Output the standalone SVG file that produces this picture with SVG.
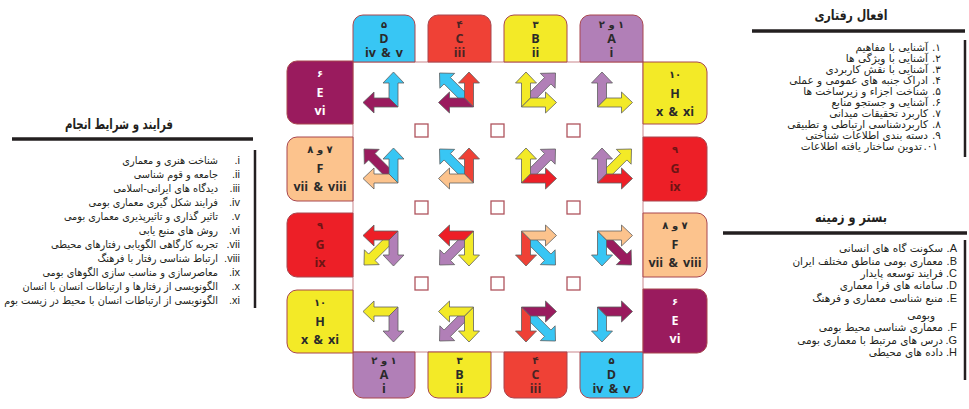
<svg xmlns="http://www.w3.org/2000/svg" width="969" height="409" viewBox="0 0 969 409">
<style>
.tab{stroke:#a8474f;stroke-width:1}
.tt{font-family:"Open Sans","DejaVu Sans",sans-serif;font-weight:700;font-size:12.5px;text-anchor:middle}
.td{font-family:"DejaVu Sans",sans-serif;font-weight:700;font-size:10px;text-anchor:middle}
.fa{font-family:"DejaVu Sans",sans-serif;font-size:10.5px;text-anchor:end;fill:#231f20}
.nm{font-family:"Liberation Sans","DejaVu Sans",sans-serif;font-size:11px;text-anchor:end;fill:#231f20}
.ttl{font-family:"DejaVu Sans",sans-serif;font-weight:700;font-size:14px;text-anchor:middle;fill:#231f20}
.rule{stroke:#231f20;stroke-width:3.5}
.bar{stroke:#231f20;stroke-width:2.5}
.sq{fill:#fff;stroke:#b0545d;stroke-width:1.3}
</style>
<defs>
<polygon id="v" points="5,5 5,-10 -1,-10 9.5,-21 20,-10 14,-10 14,14" stroke="#5f5f5f" stroke-width="0.8"/>
<polygon id="h" points="14,14 -10,14 -10,20 -21,9.5 -10,-1 -10,5 5,5" stroke="#5f5f5f" stroke-width="0.8"/>
<polygon id="d" points="11.18,4.82 -9.04,-15.4 -4.8,-19.64 -20,-20 -19.64,-4.8 -15.4,-9.04 4.82,11.18" stroke="#5f5f5f" stroke-width="0.8"/>
</defs>
<rect width="969" height="409" fill="#fff"/>
<rect id="board" x="353" y="62" width="290" height="290" fill="#fff" stroke="#c9868c" stroke-width="1"/>
<g id="tab-top-D"><path class="tab" fill="#38c6f4" d="M353 62V25A10 10 0 0 1 363 15H405A10 10 0 0 1 415 25V62Z"/><text class="td" x="384" y="28" fill="#2a2a2a">۵</text><text class="tt" x="384" y="42.5" fill="#2a2a2a">D</text><text class="tt" x="384" y="56.5" fill="#2a2a2a" word-spacing="2">iv &amp; v</text></g>
<g id="tab-top-C"><path class="tab" fill="#ef4136" d="M428 62V25A10 10 0 0 1 438 15H481A10 10 0 0 1 491 25V62Z"/><text class="td" x="459.5" y="28" fill="#4a2424">۴</text><text class="tt" x="459.5" y="42.5" fill="#4a2424">C</text><text class="tt" x="459.5" y="56.5" fill="#4a2424">iii</text></g>
<g id="tab-top-B"><path class="tab" fill="#f3ea27" d="M504 62V25A10 10 0 0 1 514 15H557A10 10 0 0 1 567 25V62Z"/><text class="td" x="535.5" y="28" fill="#2a2a2a">۳</text><text class="tt" x="535.5" y="42.5" fill="#2a2a2a">B</text><text class="tt" x="535.5" y="56.5" fill="#2a2a2a">ii</text></g>
<g id="tab-top-A"><path class="tab" fill="#b17fb7" d="M580 62V25A10 10 0 0 1 590 15H633A10 10 0 0 1 643 25V62Z"/><text class="td" x="611.5" y="28" fill="#2a2a2a" direction="rtl">۱ و ۲</text><text class="tt" x="611.5" y="42.5" fill="#2a2a2a">A</text><text class="tt" x="611.5" y="56.5" fill="#2a2a2a">i</text></g>
<g id="tab-bottom-A"><path class="tab" fill="#b17fb7" d="M353 352V388A10 10 0 0 0 363 398H405A10 10 0 0 0 415 388V352Z"/><text class="td" x="384" y="364" fill="#2a2a2a" direction="rtl">۱ و ۲</text><text class="tt" x="384" y="378.5" fill="#2a2a2a">A</text><text class="tt" x="384" y="392.5" fill="#2a2a2a">i</text></g>
<g id="tab-bottom-B"><path class="tab" fill="#f3ea27" d="M428 352V388A10 10 0 0 0 438 398H481A10 10 0 0 0 491 388V352Z"/><text class="td" x="459.5" y="364" fill="#2a2a2a">۳</text><text class="tt" x="459.5" y="378.5" fill="#2a2a2a">B</text><text class="tt" x="459.5" y="392.5" fill="#2a2a2a">ii</text></g>
<g id="tab-bottom-C"><path class="tab" fill="#ef4136" d="M504 352V388A10 10 0 0 0 514 398H557A10 10 0 0 0 567 388V352Z"/><text class="td" x="535.5" y="364" fill="#4a2424">۴</text><text class="tt" x="535.5" y="378.5" fill="#4a2424">C</text><text class="tt" x="535.5" y="392.5" fill="#4a2424">iii</text></g>
<g id="tab-bottom-D"><path class="tab" fill="#38c6f4" d="M580 352V388A10 10 0 0 0 590 398H633A10 10 0 0 0 643 388V352Z"/><text class="td" x="611.5" y="364" fill="#2a2a2a">۵</text><text class="tt" x="611.5" y="378.5" fill="#2a2a2a">D</text><text class="tt" x="611.5" y="392.5" fill="#2a2a2a" word-spacing="2">iv &amp; v</text></g>
<g id="tab-left-E"><path class="tab" fill="#9a1b5e" d="M353 61H297A10 10 0 0 0 287 71V114A10 10 0 0 0 297 124H353Z"/><text class="td" x="320" y="77" fill="#fff">۶</text><text class="tt" x="320" y="97" fill="#fff">E</text><text class="tt" x="320" y="115" fill="#fff">vi</text></g>
<g id="tab-left-F"><path class="tab" fill="#fcc38d" d="M353 137H297A10 10 0 0 0 287 147V191A10 10 0 0 0 297 201H353Z"/><text class="td" x="320" y="153" fill="#2a2a2a" direction="rtl">۷ و ۸</text><text class="tt" x="320" y="173" fill="#2a2a2a">F</text><text class="tt" x="320" y="191" fill="#2a2a2a" word-spacing="2">vii &amp; viii</text></g>
<g id="tab-left-G"><path class="tab" fill="#ed1f27" d="M353 213H297A10 10 0 0 0 287 223V267A10 10 0 0 0 297 277H353Z"/><text class="td" x="320" y="229" fill="#6e1414">۹</text><text class="tt" x="320" y="249" fill="#6e1414">G</text><text class="tt" x="320" y="267" fill="#6e1414">ix</text></g>
<g id="tab-left-H"><path class="tab" fill="#f3ea27" d="M353 290H297A10 10 0 0 0 287 300V343A10 10 0 0 0 297 353H353Z"/><text class="td" x="320" y="306" fill="#2a2a2a">۱۰</text><text class="tt" x="320" y="326" fill="#2a2a2a">H</text><text class="tt" x="320" y="344" fill="#2a2a2a" word-spacing="2">x &amp; xi</text></g>
<g id="tab-right-H"><path class="tab" fill="#f3ea27" d="M643 62H697A10 10 0 0 1 707 72V114A10 10 0 0 1 697 124H643Z"/><text class="td" x="675" y="78" fill="#2a2a2a">۱۰</text><text class="tt" x="675" y="98" fill="#2a2a2a">H</text><text class="tt" x="675" y="116" fill="#2a2a2a" word-spacing="2">x &amp; xi</text></g>
<g id="tab-right-G"><path class="tab" fill="#ed1f27" d="M643 137H697A10 10 0 0 1 707 147V191A10 10 0 0 1 697 201H643Z"/><text class="td" x="675" y="153" fill="#6e1414">۹</text><text class="tt" x="675" y="173" fill="#6e1414">G</text><text class="tt" x="675" y="191" fill="#6e1414">ix</text></g>
<g id="tab-right-F"><path class="tab" fill="#fcc38d" d="M643 213H697A10 10 0 0 1 707 223V267A10 10 0 0 1 697 277H643Z"/><text class="td" x="675" y="229" fill="#2a2a2a" direction="rtl">۷ و ۸</text><text class="tt" x="675" y="249" fill="#2a2a2a">F</text><text class="tt" x="675" y="267" fill="#2a2a2a" word-spacing="2">vii &amp; viii</text></g>
<g id="tab-right-E"><path class="tab" fill="#9a1b5e" d="M643 289H697A10 10 0 0 1 707 299V343A10 10 0 0 1 697 353H643Z"/><text class="td" x="675" y="305" fill="#fff">۶</text><text class="tt" x="675" y="325" fill="#fff">E</text><text class="tt" x="675" y="343" fill="#fff">vi</text></g>
<g id="markers">
<rect class="sq" x="415" y="124" width="13" height="13"/><rect class="sq" x="491" y="124" width="13" height="13"/><rect class="sq" x="567" y="124" width="13" height="13"/>
<rect class="sq" x="415" y="201" width="13" height="13"/><rect class="sq" x="491" y="201" width="13" height="13"/><rect class="sq" x="567" y="201" width="13" height="13"/>
<rect class="sq" x="415" y="277" width="13" height="13"/><rect class="sq" x="491" y="277" width="13" height="13"/><rect class="sq" x="567" y="277" width="13" height="13"/>
</g>
<g id="arrows">
<g transform="translate(384,93)"><use href="#v" fill="#38c6f4"/><use href="#h" fill="#9a1b5e"/></g>
<g transform="translate(459.5,93)"><use href="#d" fill="#38c6f4"/><use href="#v" fill="#ef4136"/><use href="#h" fill="#9a1b5e"/></g>
<g transform="translate(535.5,93) scale(-1,1)"><use href="#d" fill="#b17fb7"/><use href="#v" fill="#f3ea27"/><use href="#h" fill="#f3ea27"/></g>
<g transform="translate(611.5,93) scale(-1,1)"><use href="#v" fill="#b17fb7"/><use href="#h" fill="#f3ea27"/></g>
<g transform="translate(384,169)"><use href="#d" fill="#9a1b5e"/><use href="#v" fill="#38c6f4"/><use href="#h" fill="#fcc38d"/></g>
<g transform="translate(459.5,169)"><use href="#d" fill="#38c6f4"/><use href="#v" fill="#ef4136"/><use href="#h" fill="#fcc38d"/></g>
<g transform="translate(535.5,169) scale(-1,1)"><use href="#d" fill="#b17fb7"/><use href="#v" fill="#f3ea27"/><use href="#h" fill="#ed1f27"/></g>
<g transform="translate(611.5,169) scale(-1,1)"><use href="#d" fill="#f3ea27"/><use href="#v" fill="#b17fb7"/><use href="#h" fill="#ed1f27"/></g>
<g transform="translate(384,245) scale(1,-1)"><use href="#d" fill="#f3ea27"/><use href="#v" fill="#b17fb7"/><use href="#h" fill="#ed1f27"/></g>
<g transform="translate(459.5,245) scale(1,-1)"><use href="#d" fill="#b17fb7"/><use href="#v" fill="#f3ea27"/><use href="#h" fill="#ed1f27"/></g>
<g transform="translate(535.5,245) scale(-1,-1)"><use href="#d" fill="#38c6f4"/><use href="#v" fill="#ef4136"/><use href="#h" fill="#fcc38d"/></g>
<g transform="translate(611.5,245) scale(-1,-1)"><use href="#d" fill="#9a1b5e"/><use href="#v" fill="#38c6f4"/><use href="#h" fill="#fcc38d"/></g>
<g transform="translate(384,321) scale(1,-1)"><use href="#v" fill="#b17fb7"/><use href="#h" fill="#f3ea27"/></g>
<g transform="translate(459.5,321) scale(1,-1)"><use href="#d" fill="#b17fb7"/><use href="#v" fill="#f3ea27"/><use href="#h" fill="#f3ea27"/></g>
<g transform="translate(535.5,321) scale(-1,-1)"><use href="#d" fill="#38c6f4"/><use href="#v" fill="#ef4136"/><use href="#h" fill="#9a1b5e"/></g>
<g transform="translate(611.5,321) scale(-1,-1)"><use href="#v" fill="#38c6f4"/><use href="#h" fill="#9a1b5e"/></g>
</g>
<g id="panel-left">
<text class="ttl" x="119" y="129" textLength="108" lengthAdjust="spacingAndGlyphs">فرایند و شرایط انجام</text>
<line class="rule" x1="12" y1="139" x2="253" y2="139"/>
<line class="bar" x1="255" y1="150" x2="255" y2="308"/>
<text class="nm" x="240" y="164">.i</text>
<text class="nm" x="240" y="178">.ii</text>
<text class="nm" x="240" y="192">.iii</text>
<text class="nm" x="240" y="206">.iv</text>
<text class="nm" x="240" y="220">.v</text>
<text class="nm" x="240" y="234">.vi</text>
<text class="nm" x="240" y="248">.vii</text>
<text class="nm" x="240" y="262">.viii</text>
<text class="nm" x="240" y="276">.ix</text>
<text class="nm" x="240" y="290">.x</text>
<text class="nm" x="240" y="304">.xi</text>
<g transform="translate(218,0) scale(0.93,1)">
<text class="fa" x="0" y="164">شناخت هنری و معماری</text>
<text class="fa" x="0" y="178">جامعه و قوم شناسی</text>
<text class="fa" x="0" y="192">دیدگاه های ایرانی-اسلامی</text>
<text class="fa" x="0" y="206">فرایند شکل گیری معماری بومی</text>
<text class="fa" x="0" y="220">تاثیر گذاری و تاثیرپذیری معماری بومی</text>
<text class="fa" x="0" y="234">روش های منبع یابی</text>
<text class="fa" x="0" y="248">تجربه کارگاهی الگویابی رفتارهای محیطی</text>
<text class="fa" x="0" y="262">ارتباط شناسی رفتار با فرهنگ</text>
<text class="fa" x="0" y="276">معاصرسازی و مناسب سازی الگوهای بومی</text>
<text class="fa" x="0" y="290">الگونویسی از رفتارها و ارتباطات انسان با انسان</text>
<text class="fa" x="0" y="304">الگونویسی از ارتباطات انسان با محیط در زیست بوم</text>
</g>
</g>
<g id="panel-right-top">
<text class="ttl" x="851" y="20" textLength="73" lengthAdjust="spacingAndGlyphs">افعال رفتاری</text>
<line class="rule" x1="752" y1="31" x2="965" y2="31"/>
<line class="bar" x1="965" y1="40" x2="965" y2="157"/>
<text class="fa" x="941" y="51">.۱</text><text class="fa" x="928" y="51">آشنایی با مفاهیم</text>
<text class="fa" x="941" y="62">.۲</text><text class="fa" x="928" y="62">آشنایی با ویژگی ها</text>
<text class="fa" x="941" y="73">.۳</text><text class="fa" x="928" y="73">آشنایی با نقش کاربردی</text>
<text class="fa" x="941" y="84">.۴</text><text class="fa" x="928" y="84">ادراک جنبه های عمومی و عملی</text>
<text class="fa" x="941" y="95">.۵</text><text class="fa" x="928" y="95">شناخت اجزاء و زیرساخت ها</text>
<text class="fa" x="941" y="106">.۶</text><text class="fa" x="928" y="106">آشنایی و جستجو منابع</text>
<text class="fa" x="941" y="117">.۷</text><text class="fa" x="928" y="117">کاربرد تحقیقات میدانی</text>
<text class="fa" x="941" y="128">.۸</text><text class="fa" x="928" y="128">کاربردشناسی ارتباطی و تطبیقی</text>
<text class="fa" x="941" y="139">.۹</text><text class="fa" x="928" y="139">دسته بندی اطلاعات شناختی</text>
<text class="fa" x="938" y="150">.۰۱</text><text class="fa" x="922" y="150">تدوین ساختار یافته اطلاعات</text>
</g>
<g id="panel-right-bottom">
<text class="ttl" x="851" y="222" textLength="72" lengthAdjust="spacingAndGlyphs">بستر و زمینه</text>
<line class="rule" x1="723" y1="233" x2="967" y2="233"/>
<line class="bar" x1="965" y1="240" x2="965" y2="380"/>
<text class="nm" x="957" y="252">.A</text><text class="fa" x="943" y="252">سکونت گاه های انسانی</text>
<text class="nm" x="957" y="265">.B</text><text class="fa" x="943" y="265">معماری بومی مناطق مختلف ایران</text>
<text class="nm" x="957" y="277">.C</text><text class="fa" x="943" y="277">فرایند توسعه پایدار</text>
<text class="nm" x="957" y="289">.D</text><text class="fa" x="943" y="289">سامانه های فرا معماری</text>
<text class="nm" x="957" y="302">.E</text><text class="fa" x="943" y="302">منبع شناسی معماری و فرهنگ</text>
<text class="fa" x="935" y="319">وبومی</text>
<text class="nm" x="957" y="331">.F</text><text class="fa" x="943" y="331">معماری شناسی محیط بومی</text>
<text class="nm" x="957" y="344">.G</text><text class="fa" x="943" y="344">درس های مرتبط با معماری بومی</text>
<text class="nm" x="957" y="356">.H</text><text class="fa" x="943" y="356">داده های محیطی</text>
</g>
</svg>
